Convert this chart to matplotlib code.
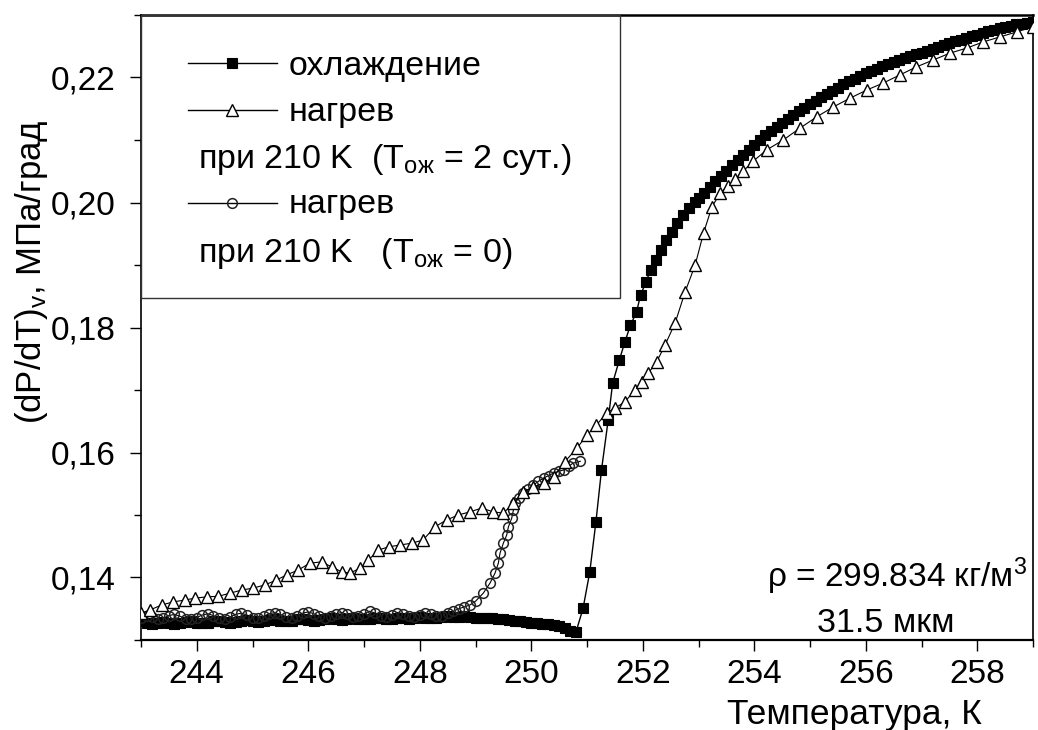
import matplotlib
matplotlib.use("Agg")
import matplotlib.pyplot as plt
from matplotlib.ticker import MultipleLocator, FuncFormatter
from matplotlib.patches import Rectangle

plt.rcParams['font.family'] = ['Liberation Sans', 'DejaVu Sans']
plt.rcParams['mathtext.fontset'] = 'custom'
plt.rcParams['mathtext.rm'] = 'Liberation Sans'
plt.rcParams['mathtext.it'] = 'Liberation Sans:italic'
plt.rcParams['mathtext.bf'] = 'Liberation Sans:bold'

# ---- data: охлаждение (cooling) ----
cool_T = [243.0, 243.1, 243.2, 243.3, 243.4, 243.5, 243.6, 243.7, 243.8, 243.9,
          244.0, 244.1, 244.2, 244.3, 244.4, 244.5, 244.6, 244.7, 244.8, 244.9,
          245.0, 245.1, 245.2, 245.3, 245.4, 245.5, 245.6, 245.7, 245.8, 245.9,
          246.0, 246.1, 246.2, 246.3, 246.4, 246.5, 246.6, 246.7, 246.8, 246.9,
          247.0, 247.1, 247.2, 247.3, 247.4, 247.5, 247.6, 247.7, 247.8, 247.9,
          248.0, 248.1, 248.2, 248.3, 248.4, 248.5, 248.6, 248.7, 248.8, 248.9,
          249.0, 249.1, 249.2, 249.3, 249.4, 249.5, 249.6, 249.7, 249.8, 249.9,
          250.0, 250.1, 250.2, 250.3, 250.4, 250.5, 250.6, 250.7, 250.8,
          250.93, 251.05, 251.16, 251.26, 251.38, 251.46, 251.58, 251.68, 251.78, 251.89,
          251.96, 252.06, 252.14, 252.24, 252.32, 252.42, 252.52, 252.61, 252.73, 252.83,
          252.94, 253.0, 253.1, 253.2, 253.3, 253.4, 253.5, 253.6, 253.7, 253.8, 253.9,
          254.0, 254.1, 254.2, 254.3, 254.4, 254.5, 254.6, 254.7, 254.8, 254.9,
          255.0, 255.1, 255.2, 255.3, 255.4, 255.5, 255.6, 255.7, 255.8, 255.9,
          256.0, 256.1, 256.2, 256.3, 256.4, 256.5, 256.6, 256.7, 256.8, 256.9,
          257.0, 257.1, 257.2, 257.3, 257.4, 257.5, 257.6, 257.7, 257.8, 257.9,
          258.0, 258.1, 258.2, 258.3, 258.4, 258.5, 258.6, 258.7, 258.8, 258.9, 259.0]
cool_v = [0.1330, 0.1328, 0.1326, 0.1327, 0.1329, 0.1328, 0.1326, 0.1327, 0.1329, 0.1330,
          0.1328, 0.1327, 0.1328, 0.1330, 0.1331, 0.1329, 0.1328, 0.1329, 0.1331, 0.1332,
          0.1330, 0.1329, 0.1330, 0.1332, 0.1333, 0.1331, 0.1330, 0.1331, 0.1333, 0.1334,
          0.1332, 0.1331, 0.1332, 0.1334, 0.1335, 0.1333, 0.1332, 0.1333, 0.1335, 0.1334,
          0.1333, 0.1334, 0.1336, 0.1335, 0.1333, 0.1334, 0.1336, 0.1335, 0.1334, 0.1335,
          0.1337, 0.1336, 0.1335, 0.1336, 0.1337, 0.1338, 0.1337, 0.1337, 0.1338, 0.1337,
          0.1336, 0.1336, 0.1335, 0.1335, 0.1334, 0.1333, 0.1332, 0.1331, 0.1330, 0.1329,
          0.1328, 0.1327, 0.1326, 0.1325, 0.1324, 0.1322, 0.1319, 0.1315, 0.1312,
          0.1351, 0.1409, 0.1489, 0.1572, 0.1652, 0.1711, 0.1748, 0.1777, 0.1804, 0.1825,
          0.1852, 0.1873, 0.1892, 0.1908, 0.1924, 0.1940, 0.1953, 0.1967, 0.1980, 0.1991,
          0.2001, 0.2007, 0.2016, 0.2025, 0.2034, 0.2043, 0.2051, 0.2060, 0.2068, 0.2076, 0.2084,
          0.2092, 0.2100, 0.2108, 0.2115, 0.2121, 0.2128, 0.2134, 0.2140, 0.2146, 0.2152,
          0.2158, 0.2163, 0.2169, 0.2174, 0.2179, 0.2184, 0.2189, 0.2194, 0.2198, 0.2203,
          0.2207, 0.2211, 0.2214, 0.2218, 0.2221, 0.2225, 0.2228, 0.2231, 0.2234, 0.2237,
          0.2240, 0.2243, 0.2246, 0.2249, 0.2252, 0.2255, 0.2258, 0.2260, 0.2263, 0.2266,
          0.2268, 0.2271, 0.2274, 0.2276, 0.2279, 0.2281, 0.2283, 0.2285, 0.2286, 0.2288, 0.2289]

# ---- data: нагрев при 210 K (T_ож = 2 сут.) ----
heat2_T = [243.0, 243.16, 243.37, 243.58, 243.79, 243.97, 244.18, 244.39, 244.60, 244.81,
           245.01, 245.22, 245.43, 245.61, 245.82, 246.03, 246.24, 246.42, 246.60, 246.75,
           246.93, 247.08, 247.26, 247.44, 247.65, 247.86, 248.06, 248.27, 248.48, 248.69,
           248.90, 249.11, 249.32, 249.50, 249.68, 249.86, 250.04, 250.22, 250.40, 250.60,
           250.82, 251.00, 251.17, 251.35, 251.50, 251.68, 251.86, 251.98, 252.10, 252.25,
           252.40, 252.58, 252.76, 252.94, 253.09, 253.24, 253.39, 253.53, 253.66, 253.80,
           253.98, 254.22, 254.52, 254.82, 255.12, 255.42, 255.72, 256.02, 256.31, 256.61,
           256.91, 257.21, 257.51, 257.81, 258.11, 258.41, 258.71, 259.0]
heat2_v = [0.1343, 0.1348, 0.1356, 0.1361, 0.1364, 0.1367, 0.1369, 0.1370, 0.1375, 0.1380,
           0.1383, 0.1388, 0.1396, 0.1404, 0.1412, 0.1423, 0.1425, 0.1417, 0.1409, 0.1407,
           0.1415, 0.1428, 0.1444, 0.1449, 0.1452, 0.1455, 0.1460, 0.1481, 0.1492, 0.1500,
           0.1505, 0.1511, 0.1505, 0.1503, 0.1519, 0.1537, 0.1545, 0.1551, 0.1561, 0.1585,
           0.1607, 0.1628, 0.1644, 0.1663, 0.1671, 0.1681, 0.1700, 0.1713, 0.1727, 0.1745,
           0.1772, 0.1807, 0.1857, 0.1900, 0.1951, 0.1993, 0.2015, 0.2027, 0.2038, 0.2050,
           0.2066, 0.2084, 0.2100, 0.2119, 0.2137, 0.2153, 0.2167, 0.2180, 0.2191, 0.2204,
           0.2217, 0.2228, 0.2239, 0.2247, 0.2257, 0.2265, 0.2273, 0.2281]

# ---- data: нагрев при 210 K (T_ож = 0) ----
heat0_T = [243.0, 243.1, 243.2, 243.3, 243.4, 243.5, 243.6, 243.7, 243.8, 243.9,
           244.0, 244.1, 244.2, 244.3, 244.4, 244.5, 244.6, 244.7, 244.8, 244.9,
           245.0, 245.1, 245.2, 245.3, 245.4, 245.5, 245.6, 245.7, 245.8, 245.9,
           246.0, 246.1, 246.2, 246.3, 246.4, 246.5, 246.6, 246.7, 246.8, 246.9,
           247.0, 247.1, 247.2, 247.3, 247.4, 247.5, 247.6, 247.7, 247.8, 247.9,
           248.0, 248.1, 248.2, 248.3, 248.4, 248.5, 248.6, 248.7, 248.8, 248.9,
           249.0, 249.14, 249.26, 249.35, 249.41, 249.44, 249.50, 249.56, 249.59, 249.65,
           249.68, 249.71, 249.78, 249.86, 249.95, 250.04, 250.13, 250.22, 250.31, 250.40,
           250.49, 250.58, 250.67, 250.75, 250.88]
heat0_v = [0.1336, 0.1339, 0.1337, 0.1333, 0.1335, 0.1339, 0.1341, 0.1338, 0.1334, 0.1333,
           0.1336, 0.1340, 0.1342, 0.1339, 0.1335, 0.1334, 0.1337, 0.1341, 0.1343, 0.1340,
           0.1336, 0.1335, 0.1338, 0.1342, 0.1344, 0.1341, 0.1337, 0.1336, 0.1339, 0.1343,
           0.1345, 0.1342, 0.1338, 0.1336, 0.1339, 0.1342, 0.1344, 0.1341, 0.1337, 0.1338,
           0.1342, 0.1346, 0.1343, 0.1339, 0.1337, 0.1340, 0.1344, 0.1342, 0.1338, 0.1337,
           0.1340, 0.1343, 0.1341, 0.1338, 0.1339, 0.1343, 0.1346, 0.1350, 0.1353, 0.1356,
           0.1362, 0.1375, 0.1391, 0.1407, 0.1423, 0.1439, 0.1455, 0.1468, 0.1481, 0.1495,
           0.1508, 0.1519, 0.1528, 0.1535, 0.1541, 0.1548, 0.1554, 0.1559, 0.1563, 0.1567,
           0.1570, 0.1572, 0.1578, 0.1583, 0.1586]

x_lim = (243, 259)
y_lim = (0.13, 0.23)
x_label = "Температура, К"
y_label = r"(dP/dT)$_\mathregular{v}$, МПа/град"
legend_labels = ["охлаждение", "нагрев", r"при 210 K  (T$_\mathregular{ож}$ = 2 сут.)",
                 "нагрев", r"при 210 K   (T$_\mathregular{ож}$ = 0)"]
annot1 = r"ρ = 299.834 кг/м$^\mathregular{3}$"
annot2 = "31.5 мкм"

fig = plt.figure(figsize=(10.38, 7.30), dpi=100)
ax = fig.add_axes([141 / 1038, 1 - 640 / 730, 892 / 1038, 625 / 730])

sq_style = dict(color='black', lw=1.0, marker='s', ms=7.4, mfc='black', mec='black', mew=0.8)
tri_style = dict(color='black', lw=0.8, marker='^', ms=9, mfc='white', mec='black', mew=1.0)
cir_style = dict(color='black', lw=0.8, marker='o', ms=7, mfc='none', mec='#222222', mew=1.1)

ax.plot(cool_T, cool_v, zorder=3, **sq_style)
ax.plot(heat0_T, heat0_v, zorder=4, **cir_style)
ax.plot(heat2_T, heat2_v, zorder=5, **tri_style)

ax.set_xlim(*x_lim)
ax.set_ylim(*y_lim)
ax.xaxis.set_major_locator(MultipleLocator(2))
ax.xaxis.set_minor_locator(MultipleLocator(1))
ax.yaxis.set_major_locator(MultipleLocator(0.02))
ax.yaxis.set_minor_locator(MultipleLocator(0.01))
ax.yaxis.set_major_formatter(FuncFormatter(lambda v, p: f"{v:.2f}".replace('.', ',')))
ax.xaxis.set_major_formatter(FuncFormatter(lambda v, p: f"{v:.0f}"))
ax.tick_params(which='major', direction='out', length=8, width=1.0, labelsize=24,
               top=False, right=False, pad=6)
ax.tick_params(axis='y', which='major', pad=10)
ax.tick_params(which='minor', direction='out', length=5, width=1.0, top=False, right=False)
for s in ax.spines.values():
    s.set_linewidth(1.2)
ax.spines['top'].set_linewidth(1.8)
ax.spines['bottom'].set_linewidth(1.6)

ax.set_xlabel(x_label, fontsize=25.5)
ax.xaxis.set_label_coords(0.80, -0.093)
ax.set_ylabel(y_label, fontsize=25)
ax.yaxis.set_label_coords(-0.102, 0.589)

# legend box
ax.add_patch(Rectangle((0, 0.547), 0.537, 0.453, transform=ax.transAxes,
                       fill=False, ec='#333333', lw=1.0, zorder=6))
lx0, lx1, lxm, ltx, ltx2 = 0.0527, 0.1525, 0.102, 0.165, 0.064
rows_line = [0.9227, 0.848, 0.699]
rows_base = [0.904, 0.831, 0.755, 0.683, 0.605]
styles = [sq_style, tri_style, cir_style]
for yl, st in zip(rows_line, styles):
    ax.plot([lx0, lx1], [yl, yl], transform=ax.transAxes, color='black', lw=1.0, zorder=7)
    s2 = dict(st)
    s2.pop('lw')
    ax.plot([lxm], [yl], transform=ax.transAxes, lw=0, zorder=8, **s2)
for i, (yb, lab) in enumerate(zip(rows_base, legend_labels)):
    xt = ltx if i in (0, 1, 3) else ltx2
    ax.text(xt, yb, lab, transform=ax.transAxes, fontsize=24.5, va='baseline', ha='left', zorder=8)

ax.text(0.702, 0.085, annot1, transform=ax.transAxes, fontsize=24, va='baseline', ha='left')
ax.text(0.758, 0.012, annot2, transform=ax.transAxes, fontsize=24.5, va='baseline', ha='left')

fig.savefig("out.png", dpi=100)
